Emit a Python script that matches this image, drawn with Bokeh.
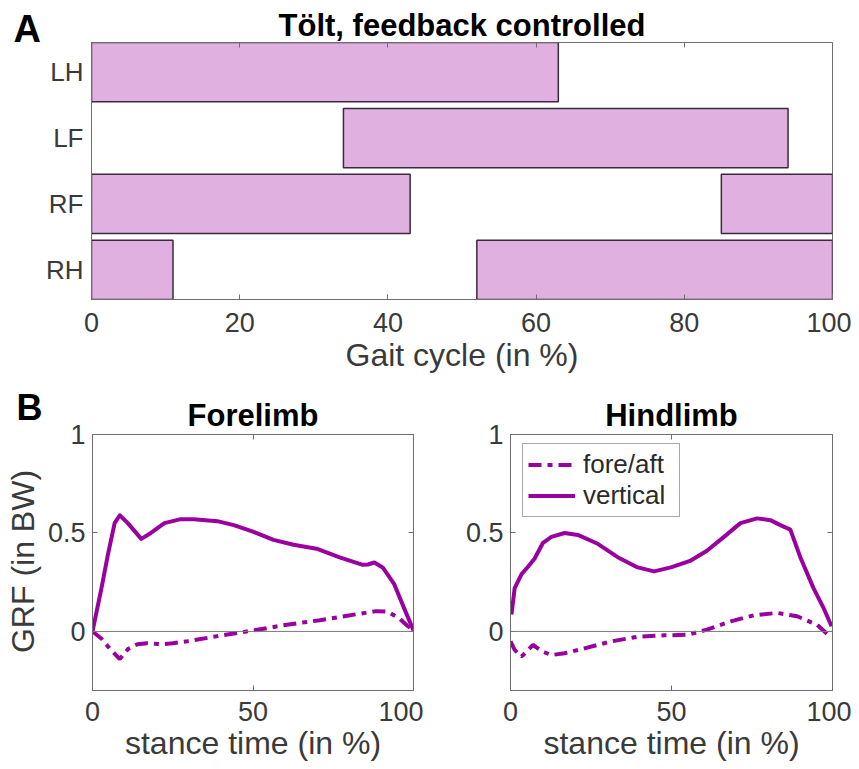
from bokeh.plotting import figure
from bokeh.models import (Range1d, FixedTicker, LinearAxis, Span, Legend, Title,
                          LegendItem, ColumnDataSource, NumeralTickFormatter)
from bokeh.layouts import column, row
from bokeh.embed import file_html
from bokeh.resources import INLINE

# ---------------- Panel A: footfall pattern (stance phases, % gait cycle)
limbs = ["LH", "LF", "RF", "RH"]
bar_limb = ["LH", "LF", "RF", "RF", "RH", "RH"]
bar_start = [0, 34, 0, 85, 0, 52]
bar_end = [63, 94, 43, 100, 11, 100]
gait_ticks = [0, 20, 40, 60, 80, 100]

# ---------------- Panel B: ground reaction forces (in BW) over stance time (%)
fore_x = [0, 2.8, 4.8, 6.9, 8.5, 11, 15.2, 18.2, 22.4, 27.5, 31.6, 38.9, 44, 50.2,
          56.4, 62.6, 69.8, 77, 84.2, 85.8, 87.8, 90.4, 94, 97.1, 100]
fore_vert = [0.0, 0.22, 0.39, 0.55, 0.59, 0.55, 0.47, 0.50, 0.55, 0.57, 0.57, 0.56,
             0.54, 0.505, 0.465, 0.44, 0.42, 0.376, 0.338, 0.34, 0.35, 0.325, 0.24,
             0.117, 0.005]
fore_fa_x = [0, 3, 5.5, 8.5, 11, 14, 17, 21.3, 25, 29.6, 38.9, 50.2, 60.5, 70.8,
             83.2, 88.4, 92, 95.6, 98, 100]
fore_fa = [0, -0.04, -0.09, -0.14, -0.09, -0.065, -0.06, -0.065, -0.06, -0.05,
           -0.024, 0.005, 0.034, 0.057, 0.09, 0.103, 0.10, 0.066, 0.03, 0.005]

hind_x = [0.3, 1.3, 3.4, 5.5, 7.5, 10.1, 12.7, 16.8, 20.9, 27.1, 33.3, 39.5, 44.6,
          49.8, 56, 61, 66.3, 71.4, 76.6, 80.7, 83.8, 86.9, 90, 94.1, 97.2, 99.7]
hind_vert = [0.086, 0.22, 0.29, 0.33, 0.37, 0.45, 0.48, 0.50, 0.49, 0.445, 0.377,
             0.325, 0.305, 0.325, 0.36, 0.41, 0.48, 0.55, 0.574, 0.565, 0.54, 0.517,
             0.377, 0.22, 0.12, 0.026]
hind_fa_x = [0, 1.3, 3.4, 5.5, 7, 9.6, 12.7, 16.8, 23, 31.2, 39.5, 47.7, 55, 61,
             68.4, 75.6, 82.8, 89, 95.2, 98.2, 99.7]
hind_fa = [-0.05, -0.094, -0.128, -0.094, -0.068, -0.1, -0.12, -0.111, -0.086,
           -0.051, -0.027, -0.02, -0.017, 0.009, 0.051, 0.082, 0.094, 0.077, 0.034,
           -0.01, -0.03]
stance_ticks = [0, 50, 100]
grf_ticks = [0, 0.5, 1]

FONT = "Liberation Sans"
TXT = "#3a3a3a"
AX = "#6e6e6e"
PURPLE = "#9a009f"
FILL = "#e0b0e0"
EDGE = "#3a2a3a"


def style(ax, show=True, standoff=9, tick_in=5, size="27px"):
    ax.axis_line_color = AX
    ax.axis_line_width = 1
    ax.major_tick_line_color = AX
    ax.major_tick_in = tick_in
    ax.major_tick_out = 0
    ax.minor_tick_line_color = None
    ax.major_label_text_font = FONT
    ax.major_label_text_font_size = size if show else "0px"
    ax.major_label_text_color = TXT if show else None
    ax.major_label_standoff = standoff if show else 0
    ax.axis_label_text_font = FONT
    ax.axis_label_text_font_size = "32px"
    ax.axis_label_text_font_style = "normal"
    ax.axis_label_text_color = TXT
    ax.axis_label_standoff = 2


def base(p):
    p.grid.visible = False
    p.outline_line_color = AX
    p.outline_line_alpha = 1
    p.background_fill_color = "white"
    p.border_fill_color = "white"


def title(text, size, standoff=0, **kw):
    common = dict(text=text, text_font=FONT, text_font_size=size, text_font_style="bold",
                  text_color="black", **kw)
    try:
        return Title(standoff=standoff, **common)
    except Exception:
        return Title(standoff=max(standoff, 0), **common)


def letter_fig(text, size, width, height, top, bottom, left, offset, standoff, ylabel=None):
    p = figure(width=width, height=height, min_border_top=top, min_border_bottom=bottom,
               min_border_left=left, min_border_right=0, x_axis_location=None,
               y_axis_location="left" if ylabel else None,
               x_range=Range1d(0, 1), y_range=Range1d(0, 1),
               output_backend="svg", toolbar_location=None)
    p.grid.visible = False
    p.outline_line_color = None
    p.background_fill_color = "white"
    p.border_fill_color = "white"
    p.add_layout(title(text, size, standoff=standoff, align="left", offset=offset), "above")
    if ylabel:
        ax = p.yaxis[0]
        ax.ticker = FixedTicker(ticks=[])
        ax.axis_line_color = None
        ax.major_tick_line_color = None
        ax.minor_tick_line_color = None
        ax.major_label_standoff = 0
        ax.major_label_text_font_size = "0px"
        ax.axis_label = ylabel
        ax.axis_label_text_font = FONT
        ax.axis_label_text_font_size = "32px"
        ax.axis_label_text_font_style = "normal"
        ax.axis_label_text_color = TXT
        ax.axis_label_standoff = 1
    return p


# ---------------- Panel A
pa = figure(frame_width=741, frame_height=257, x_range=Range1d(0, 100),
            y_range=Range1d(-0.45, len(limbs) - 0.55),
            min_border_left=49, min_border_right=19, min_border_top=42,
            min_border_bottom=79, output_backend="svg", toolbar_location=None)
base(pa)
limb_pos = {l: len(limbs) - 1 - i for i, l in enumerate(limbs)}
src = ColumnDataSource(dict(y=[limb_pos[l] for l in bar_limb], left=bar_start, right=bar_end))
pa.hbar(y="y", left="left", right="right", height=0.9, source=src,
        fill_color=FILL, line_color=EDGE, line_width=1.5)
pa.xaxis.ticker = FixedTicker(ticks=gait_ticks)
pa.xaxis.axis_label = "Gait cycle (in %)"
style(pa.xaxis[0], standoff=13)
pa.xaxis.axis_label_standoff = 2
pa.yaxis.ticker = FixedTicker(ticks=[limb_pos[l] for l in limbs])
pa.yaxis.major_label_overrides = {limb_pos[l]: l for l in limbs}
style(pa.yaxis[0], standoff=8, tick_in=0, size="26px")
ta = LinearAxis(ticker=FixedTicker(ticks=gait_ticks))
style(ta, show=False)
pa.add_layout(ta, "above")
pa.add_layout(title("Tölt, feedback controlled", "31px", standoff=0, align="center"),
              "above")

fa = letter_fig("A", "38px", 42, 378, 42, 79, 0, 13, -14)


# ---------------- Panel B
def grf_panel(name, xs_v, ys_v, xs_f, ys_f, left, fw, right, legend=False):
    p = figure(frame_width=fw, frame_height=256, x_range=Range1d(0, 100),
               y_range=Range1d(-0.3, 1), min_border_left=left, min_border_right=right,
               min_border_top=56, min_border_bottom=71, output_backend="svg",
               toolbar_location=None)
    base(p)
    p.add_layout(Span(location=0, dimension="width", line_color="#7a7a7a", line_width=1))
    rf = p.line(xs_f, ys_f, line_color=PURPLE, line_width=4, line_dash="13 6 5 6")
    rv = p.line(xs_v, ys_v, line_color=PURPLE, line_width=4, line_join="round")
    p.xaxis.ticker = FixedTicker(ticks=stance_ticks)
    p.xaxis.axis_label = "stance time (in %)"
    style(p.xaxis[0], standoff=11)
    p.xaxis.axis_label_standoff = 1
    p.yaxis.ticker = FixedTicker(ticks=grf_ticks)
    p.yaxis.formatter = NumeralTickFormatter(format="0.[0]")
    style(p.yaxis[0], standoff=7)
    tx = LinearAxis(ticker=FixedTicker(ticks=stance_ticks))
    style(tx, show=False)
    p.add_layout(tx, "above")
    ry = LinearAxis(ticker=FixedTicker(ticks=grf_ticks))
    style(ry, show=False)
    p.add_layout(ry, "right")
    p.add_layout(title(name, "31px", standoff=3, align="center"), "above")
    if legend:
        leg = Legend(items=[LegendItem(label="fore/aft", renderers=[rf]),
                            LegendItem(label="vertical", renderers=[rv])],
                     location=(12, 173), border_line_color="#555555", border_line_width=1,
                     background_fill_color="white", background_fill_alpha=1,
                     label_text_font=FONT, label_text_font_size="26px",
                     label_text_color="#2a2a2a", glyph_width=47, glyph_height=25,
                     label_height=25, label_width=91, label_standoff=8, padding=5,
                     spacing=0, margin=0)
        p.add_layout(leg)
    return p


fb = letter_fig("B", "36px", 44, 383, 56, 71, 41, -25, 13, ylabel="GRF (in BW)")
pf = grf_panel("Forelimb", fore_x, fore_vert, fore_fa_x, fore_fa, 48, 321, 10)
ph = grf_panel("Hindlimb", hind_x, hind_vert, hind_fa_x, hind_fa, 87, 322, 19,
               legend=True)

layout = column(row(fa, pa), row(fb, pf, ph))
open("out.html", "w").write(file_html(layout, INLINE))
